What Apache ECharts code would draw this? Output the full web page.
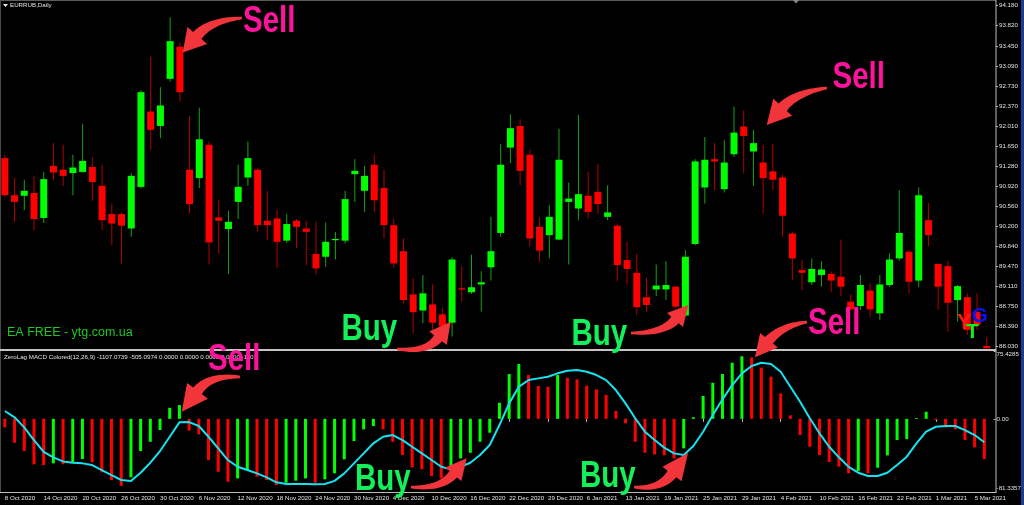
<!DOCTYPE html>
<html>
<head>
<meta charset="utf-8">
<script src="https://cdn.jsdelivr.net/npm/echarts@6/dist/echarts.min.js"></script>
<style>
html,body{margin:0;padding:0;background:#000;overflow:hidden}
#c{width:1024px;height:505px}
</style>
</head>
<body>
<div id="c"></div>
<script>
// ---------------- data ----------------
const dates = [
 '8 Oct 2020','9 Oct 2020','12 Oct 2020','13 Oct 2020','14 Oct 2020','15 Oct 2020','16 Oct 2020','19 Oct 2020','20 Oct 2020','21 Oct 2020',
 '22 Oct 2020','23 Oct 2020','26 Oct 2020','27 Oct 2020','28 Oct 2020','29 Oct 2020','30 Oct 2020','2 Nov 2020','3 Nov 2020','5 Nov 2020',
 '6 Nov 2020','9 Nov 2020','10 Nov 2020','11 Nov 2020','12 Nov 2020','13 Nov 2020','16 Nov 2020','17 Nov 2020','18 Nov 2020','19 Nov 2020',
 '20 Nov 2020','23 Nov 2020','24 Nov 2020','25 Nov 2020','26 Nov 2020','27 Nov 2020','30 Nov 2020','1 Dec 2020','2 Dec 2020','3 Dec 2020',
 '4 Dec 2020','7 Dec 2020','8 Dec 2020','9 Dec 2020','10 Dec 2020','11 Dec 2020','14 Dec 2020','15 Dec 2020','16 Dec 2020','17 Dec 2020',
 '18 Dec 2020','21 Dec 2020','22 Dec 2020','23 Dec 2020','24 Dec 2020','28 Dec 2020','29 Dec 2020','30 Dec 2020','31 Dec 2020','5 Jan 2021',
 '6 Jan 2021','8 Jan 2021','11 Jan 2021','12 Jan 2021','13 Jan 2021','14 Jan 2021','15 Jan 2021','18 Jan 2021','19 Jan 2021','20 Jan 2021',
 '21 Jan 2021','22 Jan 2021','25 Jan 2021','26 Jan 2021','27 Jan 2021','28 Jan 2021','29 Jan 2021','1 Feb 2021','2 Feb 2021','3 Feb 2021',
 '4 Feb 2021','5 Feb 2021','8 Feb 2021','9 Feb 2021','10 Feb 2021','11 Feb 2021','12 Feb 2021','15 Feb 2021','16 Feb 2021','17 Feb 2021',
 '18 Feb 2021','19 Feb 2021','22 Feb 2021','24 Feb 2021','25 Feb 2021','26 Feb 2021','1 Mar 2021','2 Mar 2021','3 Mar 2021','4 Mar 2021',
 '5 Mar 2021','9 Mar 2021'
];
const opens = [
 91.43,90.76,90.75,90.80,90.35,91.29,91.22,91.16,91.18,91.27,
 90.93,90.42,90.42,90.16,90.91,92.27,92.01,92.86,93.44,91.22,
 91.07,91.67,90.36,90.15,90.64,91.08,91.22,90.30,90.34,89.94,
 90.30,90.16,89.70,89.65,89.95,89.94,91.14,90.84,91.31,90.89,
 90.22,89.75,88.97,88.68,88.79,88.61,88.46,89.08,89.01,89.15,
 89.46,90.08,91.62,92.01,91.49,90.19,90.04,89.96,90.64,90.52,
 90.75,90.82,90.37,90.21,89.59,89.36,88.92,89.06,89.06,89.11,
 88.59,89.88,90.90,91.41,90.87,91.50,92.00,91.55,91.35,91.19,
 91.08,90.07,89.41,89.19,89.32,89.34,89.29,88.84,88.76,89.04,
 88.63,89.14,89.62,89.74,89.22,90.31,89.52,89.48,88.87,88.92,
 88.65,88.04
];
const closes = [
 90.76,90.64,90.84,90.33,91.05,91.17,91.11,91.26,91.38,91.00,
 90.31,90.25,90.21,91.11,92.62,91.94,92.38,93.54,92.62,90.60,
 91.77,89.91,90.30,90.28,90.91,91.43,90.22,90.22,89.92,90.24,
 90.19,90.10,89.44,89.92,89.97,90.69,91.20,91.11,90.67,90.22,
 89.53,88.87,88.65,88.99,88.46,88.39,89.60,89.06,89.10,89.19,
 89.75,91.31,91.97,91.20,89.98,89.76,90.37,91.40,90.70,90.78,
 90.46,90.60,90.45,89.50,89.43,88.74,88.78,89.13,89.14,88.75,
 89.65,91.37,91.40,91.37,91.35,91.89,91.83,91.70,91.07,91.04,
 90.39,89.62,89.36,89.43,89.42,89.22,89.11,88.70,89.14,88.70,
 89.15,89.60,90.08,89.20,90.76,90.04,89.11,88.82,89.12,88.33,
 88.42,88.00
];
const lows = [
 90.73,90.28,90.49,90.12,90.26,91.03,90.93,90.76,91.17,90.66,
 90.13,89.86,89.53,90.01,90.88,91.58,91.79,92.81,92.45,90.43,
 90.89,89.51,89.71,89.34,90.33,90.93,90.10,89.95,89.45,89.90,
 89.81,89.50,89.33,89.47,89.60,89.89,90.64,90.46,90.46,89.98,
 89.45,88.81,88.27,88.45,88.33,88.33,88.21,88.84,88.98,88.66,
 89.22,90.01,91.34,90.94,89.83,89.56,89.62,89.95,89.51,90.31,
 90.34,90.42,90.31,89.21,89.15,88.60,88.66,88.94,88.87,88.72,
 88.57,89.86,90.61,90.85,90.81,91.45,91.16,90.93,90.43,90.85,
 90.01,89.23,89.05,89.14,89.11,89.02,88.94,88.69,88.69,88.56,
 88.51,89.10,89.58,88.99,89.10,89.84,88.69,88.30,88.48,88.24,
 88.33,87.99
];
const highs = [
 91.49,91.07,91.04,91.10,91.18,91.70,91.67,91.49,92.05,91.45,
 91.31,90.61,90.45,91.16,92.66,93.26,92.71,93.97,93.52,92.19,
 92.34,91.73,90.67,90.48,91.31,91.73,91.25,90.84,90.49,90.42,
 90.33,90.30,90.28,90.27,90.10,90.84,91.41,91.29,91.50,91.22,
 90.34,89.98,89.26,89.32,89.15,88.73,89.64,89.48,89.69,89.39,
 90.37,91.68,92.22,92.13,91.58,90.36,90.58,91.96,90.99,92.21,
 91.18,91.32,90.94,90.25,89.92,89.71,89.27,89.51,89.57,89.12,
 89.77,91.41,91.81,91.70,91.76,92.36,92.29,91.94,91.67,91.69,
 91.13,90.10,89.59,89.62,89.57,89.38,89.96,88.97,89.32,89.17,
 89.32,89.71,90.85,89.77,90.90,90.62,89.53,89.58,89.14,88.99,
 88.99,88.20
];
const histValues = [
 -9.5,-26.6,-35.8,-50.6,-51.4,-49.5,-50.5,-48.4,-44.7,-48.4,
 -59.5,-68,-74.4,-65,-35.8,-25.5,-12.5,12.3,15.3,-13.2,
 -17.2,-45.8,-58.8,-69.9,-66.2,-56.9,-64.4,-68,-73.6,-71,
 -68.8,-66.2,-71,-67.3,-60.6,-45,-24.7,-11.7,-8,-11.7,
 -25.5,-40.2,-54,-56.2,-63.6,-66.2,-55,-44,-37.7,-25.5,
 -15.4,17.9,49.8,60.9,48.7,36.5,35.7,48.7,45.7,43.9,
 36.8,32.8,26.5,8.7,-5,-25.5,-37.7,-39.5,-40.5,-44,
 -32.8,1.7,25.4,40.1,49.8,62.4,69.5,68.4,56.8,46.8,
 28.3,3.9,-18,-31,-40.2,-48,-53.2,-60.6,-58,-60.6,
 -54.3,-40.6,-23.6,-22.5,0.9,7.9,-1.3,-9.5,-11.7,-23.6,
 -31.7,-44.7
];
const signalValues = [
 8.7,1.7,-9.5,-23.6,-36.6,-42.8,-47.3,-48.8,-49.5,-51.4,
 -56.9,-62.5,-68,-69.2,-59.9,-48.8,-35.8,-19.9,-3.9,-3.6,
 -8,-19.9,-32.8,-45.8,-53.3,-56.9,-60.6,-65,-70.6,-72.5,
 -72.5,-72.5,-72.8,-72.5,-69,-60.6,-49.5,-38.4,-27.2,-19.9,
 -18,-23.6,-31,-38.4,-45.8,-53.3,-56.2,-53.3,-48.8,-40.2,
 -29.1,-6.9,17.2,35.7,43.1,45,46.8,50.6,53.5,54.3,
 52.4,48.7,43.1,32,17.2,0.6,-14.3,-23.6,-32,-38.4,
 -40.2,-30.2,-14.3,4.2,21.7,37.6,50.6,58.7,62.4,60.9,
 52.4,35.7,19,0.6,-16.1,-31,-42.8,-53.3,-59.9,-63.6,
 -63.6,-59.9,-51.4,-42.1,-27.2,-14.3,-8.8,-8,-8,-12.5,
 -18,-26
];
const priceTicks = [88.03,88.39,88.75,89.11,89.47,89.84,90.20,90.56,90.92,91.28,91.65,92.01,92.37,92.73,93.09,93.45,93.82,94.18];
const macdTicks = [-81.3357, 0, 75.4285];
const symbolTitle = 'EURRUB,Daily';
const indicatorTitle = 'ZeroLag MACD Colored(12,26,9) -1107.0739 -505.0974 0.0000 0.0000 0.0000 0.0000 -1107';
const watermark = 'EA FREE - ytg.com.ua';

// ---------------- style ----------------
const AXIS_FONT = "'Liberation Sans',Arial,sans-serif";
const AXIS_SIZE = 6.2;
const SIGN_FONT = "'Liberation Sans',Arial,sans-serif";
const UP = '#00ff00', DN = '#ff0000', WICK_UP = '#12a612', WICK_DN = '#b30000';
const ARROW = '#f2353b', PINK = '#ff139c', BUYG = '#12f05a';
const LABEL = '#e2e2e2', FRAME = '#bdbdbd';
const GL = -2.875, GW = 994.5, AX_OFF = 996 - (GL + GW);

function quad(P0, P1, P2, n) {
  const pts = [];
  for (let k = 0; k <= n; k++) {
    const t = k / n, a = (1 - t) * (1 - t), b = 2 * (1 - t) * t, c = t * t;
    pts.push([a * P0[0] + b * P1[0] + c * P2[0], a * P0[1] + b * P1[1] + c * P2[1]]);
  }
  return pts;
}
function arrow(T, C, B, K, hw, bw) {
  const nrm = (x, y) => { const l = Math.hypot(x, y); return [-y / l, x / l]; };
  const nh = nrm(K[0] - B[0], K[1] - B[1]);
  const nt = nrm(C[0] - T[0], C[1] - T[1]);
  const nc = nrm(B[0] - T[0], B[1] - T[1]);
  const p = (P, n, s) => [P[0] + n[0] * s, P[1] + n[1] * s];
  const tw = 1.3;
  const pts = [].concat(
    quad(p(T, nt, tw), p(C, nc, bw * 0.75), p(B, nh, bw), 14),
    [p(B, nh, hw), K, p(B, nh, -hw)],
    quad(p(B, nh, -bw), p(C, nc, -bw * 0.75), p(T, nt, -tw), 14)
  );
  return { type: 'polygon', shape: { points: pts }, style: { fill: ARROW }, z: 100 };
}
function sign(t, x, y, color) {
  return { type: 'text', x: x, y: y, z: 101, scaleX: 0.82, scaleY: 1,
    style: { text: t, fill: color, fontSize: 36, fontWeight: 'bold', fontFamily: SIGN_FONT, align: 'left', verticalAlign: 'middle' } };
}
function txt(t, x, y, color, size, weight, family, z) {
  return { type: 'text', x: x, y: y, z: z || 50,
    style: { text: t, fill: color, fontSize: size, fontWeight: weight || 'normal', fontFamily: family || AXIS_FONT, align: 'left', verticalAlign: 'middle' } };
}

const candleData = dates.map((d, i) => [i, opens[i], closes[i], lows[i], highs[i]]);
const every4 = (idx) => idx % 4 === 0;

const chart = echarts.init(document.getElementById('c'), null, { renderer: 'canvas' });
chart.setOption({
  backgroundColor: '#000',
  animation: false,
  grid: [
    { left: GL, top: 1, width: GW, height: 348 },
    { left: GL, top: 351, width: GW, height: 141 }
  ],
  xAxis: [
    { gridIndex: 0, type: 'category', data: dates, boundaryGap: true, show: false },
    { gridIndex: 1, type: 'category', data: dates, boundaryGap: true,
      axisLine: { show: false },
      axisTick: { show: true, alignWithLabel: true, interval: every4, length: 3, lineStyle: { color: FRAME } },
      axisLabel: { interval: every4, align: 'left', margin: 3, color: LABEL, fontSize: AXIS_SIZE, fontFamily: AXIS_FONT },
      splitLine: { show: false } }
  ],
  yAxis: [
    { gridIndex: 0, type: 'value', position: 'right', offset: AX_OFF, min: 87.9855, max: 94.2648,
      splitLine: { show: false }, axisLine: { show: false },
      axisTick: { show: true, customValues: priceTicks, length: 2, lineStyle: { color: FRAME } },
      axisLabel: { customValues: priceTicks, formatter: v => v.toFixed(3), margin: 3, color: LABEL, fontSize: AXIS_SIZE, fontFamily: AXIS_FONT } },
    { gridIndex: 1, type: 'value', position: 'right', offset: AX_OFF, min: -81.3357, max: 75.4285,
      splitLine: { show: false }, axisLine: { show: false },
      axisTick: { show: true, customValues: macdTicks, length: 2, lineStyle: { color: FRAME } },
      axisLabel: { customValues: macdTicks, margin: 3, color: LABEL, fontSize: AXIS_SIZE, fontFamily: AXIS_FONT,
        formatter: v => v === 0 ? '0.00' : (v > 0 ? '{t|' + v.toFixed(4) + '}' : '{b|' + v.toFixed(4) + '}'),
        rich: {
          t: { padding: [7, 0, 0, 0], color: LABEL, fontSize: AXIS_SIZE, fontFamily: AXIS_FONT },
          b: { padding: [0, 0, 8, 0], color: LABEL, fontSize: AXIS_SIZE, fontFamily: AXIS_FONT }
        } } }
  ],
  series: [
    { type: 'custom', xAxisIndex: 0, yAxisIndex: 0, data: candleData, clip: true,
      encode: { x: 0, y: [1, 2, 3, 4] },
      renderItem: (params, api) => {
        const i = api.value(0), o = api.value(1), c = api.value(2), l = api.value(3), h = api.value(4);
        const pO = api.coord([i, o]), pC = api.coord([i, c]), pL = api.coord([i, l]), pH = api.coord([i, h]);
        const up = c >= o, x = pO[0], w = 7;
        const top = Math.min(pO[1], pC[1]), bot = Math.max(pO[1], pC[1]);
        return { type: 'group', children: [
          { type: 'line', shape: { x1: x, y1: pH[1], x2: x, y2: pL[1] }, style: { stroke: up ? WICK_UP : WICK_DN, lineWidth: 1 } },
          { type: 'rect', shape: { x: x - w / 2, y: top, width: w, height: Math.max(bot - top, 1.2) }, style: { fill: up ? UP : DN } }
        ] };
      } },
    { type: 'bar', xAxisIndex: 1, yAxisIndex: 1, data: histValues, barWidth: 3, z: 2,
      itemStyle: { color: p => (p.dataIndex > 0 && histValues[p.dataIndex] > histValues[p.dataIndex - 1]) ? UP : DN } },
    { type: 'line', xAxisIndex: 1, yAxisIndex: 1, data: signalValues, symbol: 'none', z: 3,
      lineStyle: { color: '#16e3f0', width: 2 } }
  ],
  graphic: [
    { type: 'rect', shape: { x: 0, y: 0, width: 996, height: 1 }, style: { fill: '#5c5c5c' }, z: 40 },
    { type: 'rect', shape: { x: 0, y: 0, width: 1, height: 492 }, style: { fill: '#4a4a4a' }, z: 40 },
    { type: 'rect', shape: { x: 0, y: 349, width: 996, height: 2 }, style: { fill: '#c4c4c4' }, z: 40 },
    { type: 'rect', shape: { x: 995.5, y: 0, width: 1, height: 493 }, style: { fill: FRAME }, z: 40 },
    { type: 'rect', shape: { x: 0, y: 492, width: 996.5, height: 1 }, style: { fill: FRAME }, z: 40 },
    { type: 'rect', shape: { x: 1021, y: 0, width: 3, height: 505 }, style: { fill: '#1d3c8e' }, z: 40 },
    { type: 'polygon', shape: { points: [[793, 0], [799, 0], [796, 3.5]] }, style: { fill: '#8a8a8a' }, z: 41 },
    { type: 'polygon', shape: { points: [[3, 4], [8, 4], [5.5, 7]] }, style: { fill: '#f0f0f0' }, z: 41 },
    txt(symbolTitle, 10, 5.5, LABEL, AXIS_SIZE),
    txt(indicatorTitle, 4, 357.5, LABEL, AXIS_SIZE),
    txt(watermark, 7, 332.5, '#1ec81e', 12.5, 'normal', "'Liberation Sans',sans-serif"),
    // logo
    txt('Y', 957, 323, '#ff1a1a', 22, 'bold', "'Liberation Sans',sans-serif", 60),
    txt('T', 966, 332.5, '#10f010', 21, 'bold', "'Liberation Sans',sans-serif", 61),
    txt('G', 971.5, 316, '#1010f0', 21, 'bold', "'Liberation Sans',sans-serif", 62),
    // arrows
    arrow([242, 18], [210.3, 20.3], [197.3, 35.5], [182.7, 52.5], 13, 5.5),
    arrow([827, 88], [796, 92.4], [782.7, 107.2], [766.7, 125], 12.7, 5.5),
    arrow([807, 322], [782.5, 325.5], [769, 340.3], [755, 357.3], 11.5, 5.2),
    arrow([240, 377], [209.6, 374.8], [197.5, 390.8], [181.7, 411.7], 13, 5.5),
    arrow([397, 349], [427, 352.6], [438, 338.3], [450.7, 321.7], 11, 5),
    arrow([631, 333], [663, 333.5], [675, 320], [688.3, 305], 10.7, 5),
    arrow([411, 487], [440.5, 489.5], [453.3, 474.2], [466.7, 458.3], 10.5, 5),
    arrow([634, 487], [660, 490], [672, 474], [688, 453], 12, 5.5),
    // signs
    sign('Sell', 243, 22, PINK),
    sign('Sell', 832.5, 78, PINK),
    sign('Sell', 808, 324, PINK),
    sign('Sell', 208, 360, PINK),
    sign('Buy', 341.5, 330, BUYG),
    sign('Buy', 571.5, 335, BUYG),
    sign('Buy', 355, 480.5, BUYG),
    sign('Buy', 580, 477.5, BUYG)
  ]
});
</script>
</body>
</html>
